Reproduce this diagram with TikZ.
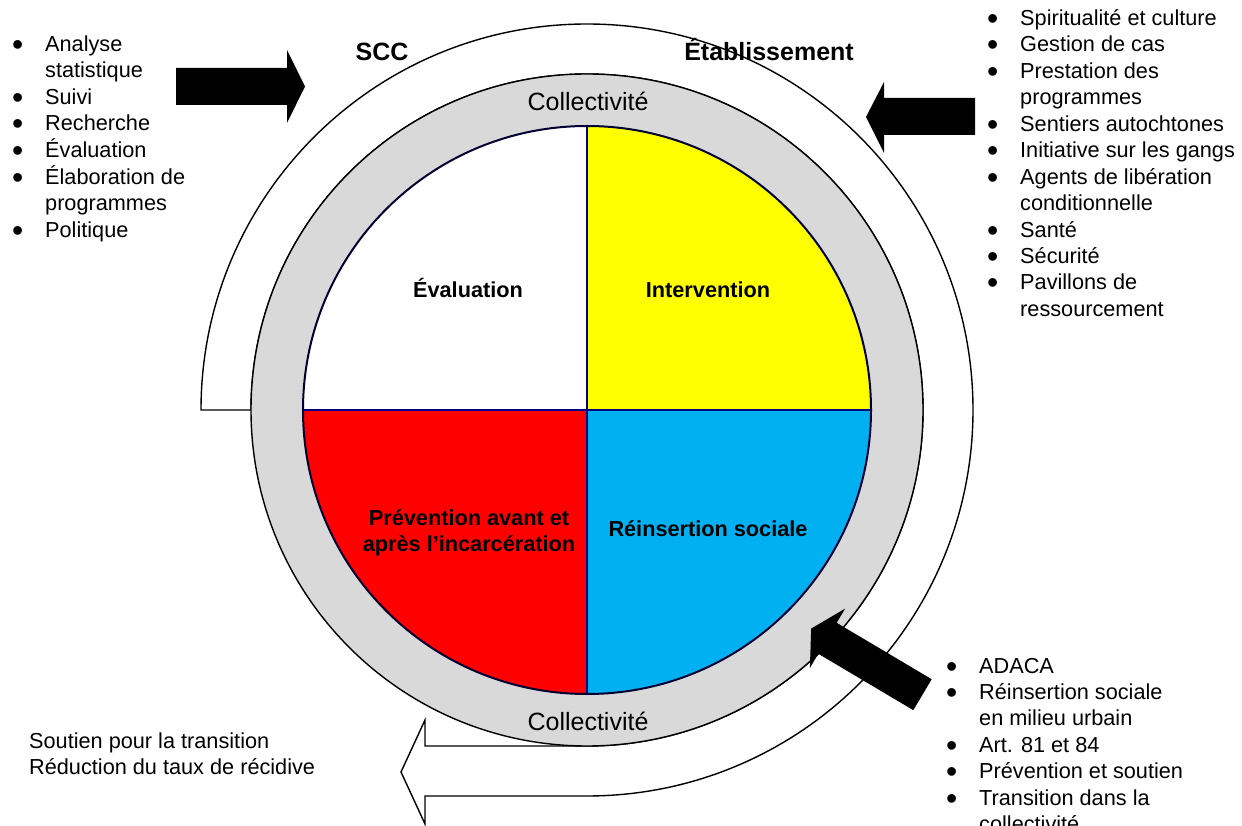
\documentclass[tikz,border=0pt]{standalone}
\usepackage{fontspec}
\setmainfont{Liberation Sans}
\usetikzlibrary{calc}
\begin{document}
\definecolor{ringgrey}{HTML}{D9D9D9}
\definecolor{quadyellow}{HTML}{FFFF00}
\definecolor{quadred}{HTML}{FF0000}
\definecolor{quadcyan}{HTML}{00B0F0}
\definecolor{divnavy}{HTML}{000080}
\newcommand\bigdot{\smash{\raisebox{-4pt}{\fontsize{32}{32}\selectfont\textbullet}}}
\newcommand\bulitem[1]{\makebox[33pt][l]{\bigdot} & #1\\}
\newcommand\contline[1]{ & #1\\}
\begin{tikzpicture}[x=1pt,y=1pt,
  outline/.style={draw=black,line width=1.4pt},
  band/.style={outline,fill=white,line join=miter},
  blockarrow/.style={fill=black,draw=none},
  quadline/.style={draw=divnavy,line width=2pt},
  listtext/.style={inner sep=0pt,font=\fontsize{21.7}{26.45}\selectfont},
  headtext/.style={inner sep=0pt,font=\fontsize{25}{30}\selectfont\bfseries},
  ringtext/.style={inner sep=0pt,font=\fontsize{25}{30}\selectfont},
  quadtext/.style={inner sep=0pt,align=center,font=\fontsize{21.7}{25.5}\selectfont\bfseries}]
\useasboundingbox (0,0) rectangle (1242,825);
\coordinate (c) at (587,415);

% open band around the wheel, ending in the outgoing arrow
\draw[band] (201,415) arc[start angle=180,end angle=-90,radius=386]
  -- (425,29) -- (425,1) -- (401,53) -- (425,105) -- (425,79) -- (587,79)
  arc[start angle=-90,end angle=180,radius=336] -- cycle;

% community ring
\draw[outline,fill=ringgrey] (c) circle[radius=336];

% four quadrants
\fill[white] (c) -- ++(-284,0) arc[start angle=180,end angle=90,radius=284] -- cycle;
\fill[quadyellow] (c) -- ++(0,284) arc[start angle=90,end angle=0,radius=284] -- cycle;
\fill[quadred] (c) -- ++(0,-284) arc[start angle=270,end angle=180,radius=284] -- cycle;
\fill[quadcyan] (c) -- ++(284,0) arc[start angle=0,end angle=-90,radius=284] -- cycle;
\draw[quadline] ($(c)+(-284,0)$) -- ($(c)+(284,0)$);
\draw[quadline] ($(c)+(0,284)$) -- ($(c)+(0,-284)$);
\draw[draw=black!60!divnavy,line width=2pt] (c) circle[radius=284];

% labels on the ring and band
\node[ringtext,anchor=base] (colltop) at (588,714) {Collectivité};
\node[ringtext,anchor=base] (collbot) at (588,95) {Collectivité};
\node[headtext,anchor=base] (scc) at (382,764) {SCC};
\node[headtext,anchor=base] (etab) at (769,764) {Établissement};

% quadrant labels
\node[quadtext,anchor=base] (qeval) at (468,527) {Évaluation};
\node[quadtext,anchor=base] (qinter) at (708,527) {Intervention};
\node[quadtext] (qprev) at (469,292) {Prévention avant et\\après l’incarcération};
\node[quadtext,anchor=base] (qreins) at (708,288) {Réinsertion sociale};

% block arrows
\fill[blockarrow] (176,720) -- (287,720) -- (287,702) -- (305,738.5)
  -- (287,775) -- (287,757) -- (176,757) -- cycle;
\fill[blockarrow] (975,727) -- (884,727) -- (884,743) -- (866,708)
  -- (884,672) -- (884,690) -- (975,690) -- cycle;
\begin{scope}[shift={(922.5,130.3)},rotate=149.3]
  \fill[blockarrow] (0,-18) -- (110.5,-18) -- (110.5,-34.5) -- (129.5,0)
    -- (110.5,34.5) -- (110.5,18) -- (0,18) -- cycle;
\end{scope}

% bullet lists
\node[listtext,anchor=base west] (leftlist) at (12,773.5) {%
  \begin{tabular}[t]{@{}l@{}l@{}}
  \bulitem{Analyse}
  \contline{statistique}
  \bulitem{Suivi}
  \bulitem{Recherche}
  \bulitem{Évaluation}
  \bulitem{Élaboration de}
  \contline{programmes}
  \bulitem{Politique}
  \end{tabular}};
\node[listtext,anchor=base west] (rightlist) at (987,799.5) {%
  \begin{tabular}[t]{@{}l@{}l@{}}
  \bulitem{Spiritualité et culture}
  \bulitem{Gestion de cas}
  \bulitem{Prestation des}
  \contline{programmes}
  \bulitem{Sentiers autochtones}
  \bulitem{Initiative sur les gangs}
  \bulitem{Agents de libération}
  \contline{conditionnelle}
  \bulitem{Santé}
  \bulitem{Sécurité}
  \bulitem{Pavillons de}
  \contline{ressourcement}
  \end{tabular}};
\node[listtext,anchor=base west] (lowlist) at (946,152) {%
  \begin{tabular}[t]{@{}l@{}l@{}}
  \bulitem{ADACA}
  \bulitem{Réinsertion sociale}
  \contline{en milieu urbain}
  \bulitem{Art. 81 et 84}
  \bulitem{Prévention et soutien}
  \bulitem{Transition dans la}
  \contline{collectivité}
  \end{tabular}};

% outcome text
\node[listtext,anchor=base west,align=left] (outcome) at (29,50.3)
  {Soutien pour la transition\\Réduction du taux de récidive};
\end{tikzpicture}
\end{document}
